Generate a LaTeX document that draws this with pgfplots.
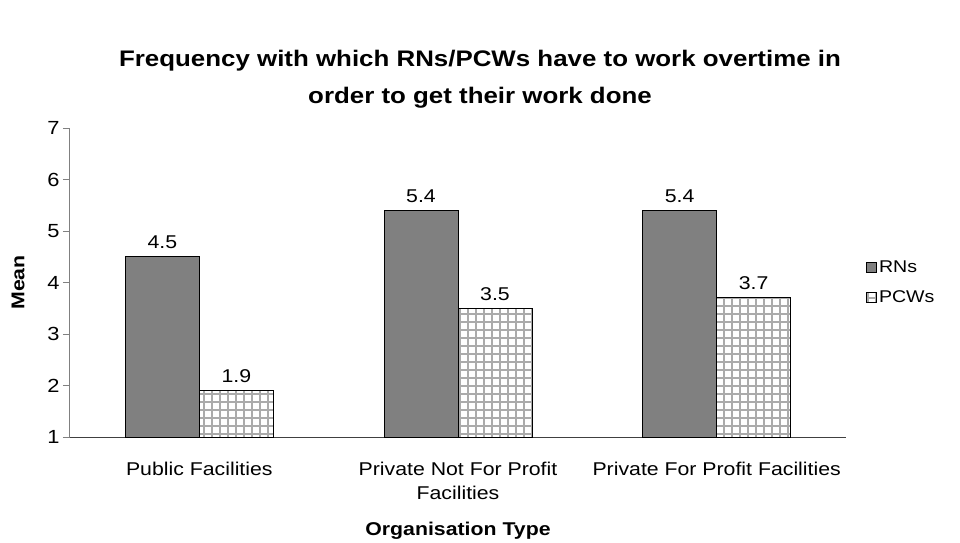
\documentclass[border=0pt]{standalone}
\usepackage{pgfplots}
\pgfplotsset{compat=1.18}
\usepackage{fontspec}
\setmainfont{Liberation Sans}[FakeStretch=1.15]
\usetikzlibrary{patterns}

% square grid fill used for the PCWs bars
\pgfdeclarepatternformonly{cellgrid}{\pgfpoint{-1pt}{-1pt}}{\pgfpoint{9pt}{9pt}}{\pgfpoint{8pt}{8pt}}{%
  \pgfsetlinewidth{2.8pt}%
  \pgfpathmoveto{\pgfpoint{0pt}{4pt}}\pgfpathlineto{\pgfpoint{8pt}{4pt}}%
  \pgfpathmoveto{\pgfpoint{4pt}{0pt}}\pgfpathlineto{\pgfpoint{4pt}{8pt}}%
  \pgfusepath{stroke}}

\definecolor{rnfill}{HTML}{808080}
\definecolor{axgray}{HTML}{808080}

\begin{document}
\begin{tikzpicture}[x=1pt,y=1pt]
\useasboundingbox (-70,-105) rectangle (890,437);
\begin{axis}[
  at={(0pt,0pt)}, anchor=south west,
  scale only axis, width=776pt, height=309pt,
  ybar=0pt, bar width=74pt,
  xmin=-0.5, xmax=2.5, ymin=1, ymax=7,
  ytick={1,2,...,7},
  xtick={0,1,2},
  xticklabels={Public Facilities, Private Not For Profit\\Facilities, Private For Profit Facilities},
  xticklabel style={align=center, font=\fontsize{18.5}{24}\selectfont, yshift=-15pt},
  extra x ticks={0.5,1.5,2.5},
  extra x tick labels={},
  extra x tick style={major tick length=7pt, tick align=outside, tick style={axgray, line width=1pt}},
  axis x line*=bottom, axis y line*=left,
  axis line style={axgray, line width=1pt, -},
  x axis line style={black!75},
  major x tick style={draw=none},
  ytick style={axgray, line width=1pt},
  tick align=outside, major tick length=7pt,
  yticklabel style={font=\fontsize{19}{22}\selectfont},
  /pgf/number format/assume math mode=true,
  ylabel={\bfseries Mean},
  ylabel style={font=\fontsize{18.5}{22}\selectfont, at={(-52pt,0.5)}, anchor=center},
  xlabel={\bfseries Organisation Type},
  xlabel style={font=\fontsize{18.5}{22}\selectfont, at={(0.5,-94pt)}, anchor=center},
  nodes near coords={\pgfmathprintnumber[fixed,fixed zerofill,precision=1]{\pgfplotspointmeta}},
  nodes near coords style={font=\fontsize{18.5}{22}\selectfont, black, yshift=4pt},
  legend style={at={(1.022,0.5)}, anchor=west, draw=none, fill=none,
    font=\fontsize{17}{20}\selectfont, row sep=12pt},
  legend cell align=left,
  legend image code/.code={\draw[#1, line width=0.8pt] (0pt,-5pt) rectangle (10pt,5pt);},
  clip=false,
]
\addplot[draw=black, line width=1pt, fill=rnfill] coordinates {(0,4.5) (1,5.4) (2,5.4)};
\addplot[draw=black, line width=1pt, pattern=cellgrid, pattern color=black!33] coordinates {(0,1.9) (1,3.5) (2,3.7)};
\legend{RNs, PCWs}
\end{axis}
\node[font=\fontsize{22.5}{37}\selectfont\bfseries, align=center] at (410,358)
  {Frequency with which RNs/PCWs have to work overtime in\\order to get their work done};
\end{tikzpicture}
\end{document}
